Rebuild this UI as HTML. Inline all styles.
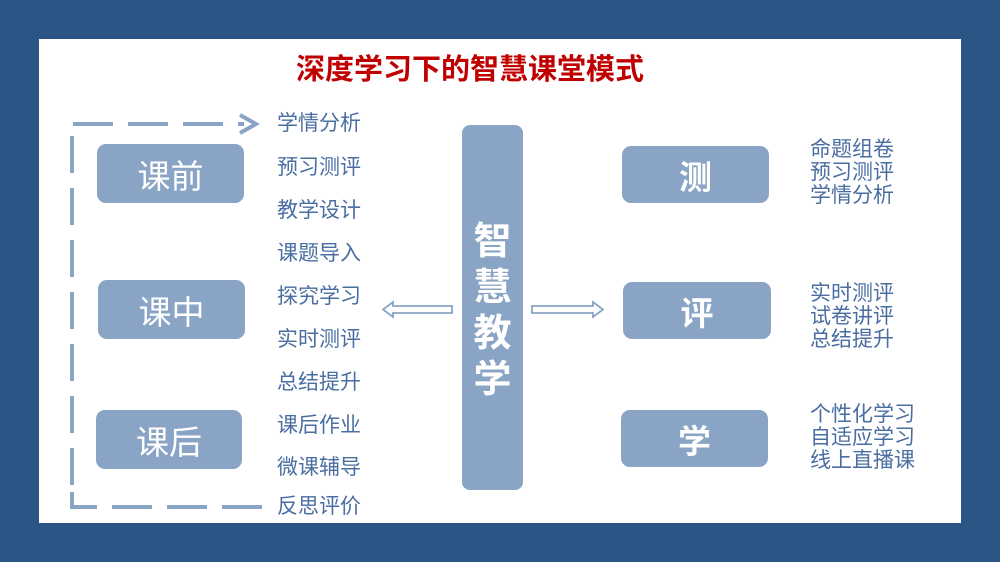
<!DOCTYPE html>
<html><head><meta charset="utf-8"><style>
body{margin:0;width:1000px;height:562px;background:#2b5584;position:relative;overflow:hidden;font-family:"Liberation Sans","Noto Sans CJK SC",sans-serif}
.panel{position:absolute;left:39px;top:39px;width:922px;height:484px;background:#fff}
.abs{position:absolute}
.box{position:absolute;background:#89a4c4;border-radius:9px;color:#fff;display:flex;align-items:center;justify-content:center}
.lt{position:absolute;left:277px;font-size:21px;color:#4a6ea2;line-height:22px;white-space:nowrap}
.rt{position:absolute;left:810px;font-size:21px;color:#4a6ea2;line-height:23px;white-space:nowrap}
.title{position:absolute;left:296px;top:53px;font-size:29px;font-weight:bold;color:#c00000;line-height:34px;white-space:nowrap}
</style></head><body>
<div class="panel"></div>
<div class="title">深度学习下的智慧课堂模式</div>
<svg class="abs" style="left:0;top:0" width="1000" height="562">
<g stroke="#89a4c4" stroke-width="4" fill="none">
<path d="M73 124 H244" stroke-dasharray="40 15"/>
<path d="M240 115 L256 124 L240 133" stroke-width="4"/>
<path d="M72 136 V498" stroke-dasharray="37 15"/>
<path d="M72 492 V507 H262" stroke-dasharray="40 15"/>
</g>
<g stroke="#89a4c4" stroke-width="1.8" fill="#fff">
<path d="M452 306 H393 V302 L383 309.5 L393 317 V313 H452 Z"/>
<path d="M532 306 H593 V302 L603 309.5 L593 317 V313 H532 Z"/>
</g>
</svg>
<div class="box" style="left:97px;top:144px;width:147px;height:59px;font-size:33px">课前</div>
<div class="box" style="left:98px;top:280px;width:147px;height:59px;font-size:33px">课中</div>
<div class="box" style="left:96px;top:410px;width:146px;height:59px;font-size:33px">课后</div>
<div class="lt" style="top:113px">学情分析</div>
<div class="lt" style="top:157px">预习测评</div>
<div class="lt" style="top:200px">教学设计</div>
<div class="lt" style="top:243px">课题导入</div>
<div class="lt" style="top:286px">探究学习</div>
<div class="lt" style="top:329px">实时测评</div>
<div class="lt" style="top:372px">总结提升</div>
<div class="lt" style="top:415px">课后作业</div>
<div class="lt" style="top:457px">微课辅导</div>
<div class="lt" style="top:496px">反思评价</div>
<div class="box" style="left:462px;top:125px;width:61px;height:365px;border-radius:8px;display:block;text-align:center;font-size:38px;font-weight:bold;line-height:46px"><div style="margin-top:94px">智<br>慧<br>教<br>学</div></div>
<div class="box" style="left:622px;top:146px;width:147px;height:57px;font-size:33px;font-weight:bold">测</div>
<div class="box" style="left:623px;top:282px;width:148px;height:57px;font-size:33px;font-weight:bold">评</div>
<div class="box" style="left:621px;top:410px;width:147px;height:57px;font-size:33px;font-weight:bold">学</div>
<div class="rt" style="top:138px">命题组卷<br>预习测评<br>学情分析</div>
<div class="rt" style="top:282px">实时测评<br>试卷讲评<br>总结提升</div>
<div class="rt" style="top:403px">个性化学习<br>自适应学习<br>线上直播课</div>
</body></html>
